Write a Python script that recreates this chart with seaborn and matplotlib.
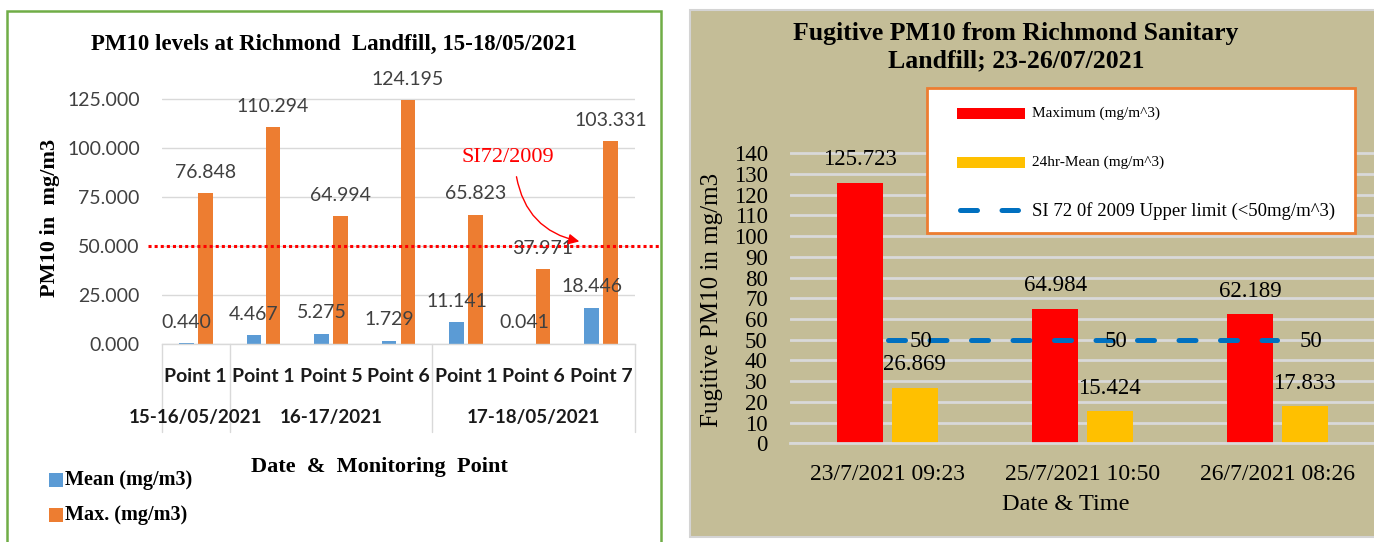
import matplotlib
matplotlib.use("Agg")
import matplotlib.pyplot as plt
import seaborn as sns
import numpy as np
import pandas as pd
from matplotlib.patches import Rectangle
from matplotlib.lines import Line2D
from matplotlib.transforms import blended_transform_factory

# ---------------- data ----------------
points = ["Point 1", "Point 1", "Point 5", "Point 6", "Point 1", "Point 6", "Point 7"]
point_dates = ["15-16/05/2021", "16-17/2021", "16-17/2021", "16-17/2021",
               "17-18/05/2021", "17-18/05/2021", "17-18/05/2021"]
mean_vals = [0.440, 4.467, 5.275, 1.729, 11.141, 0.041, 18.446]
max_vals = [76.848, 110.294, 64.994, 124.195, 65.823, 37.971, 103.331]
left_series = ["Mean (mg/m3)", "Max. (mg/m3)"]
left_yticks = [0, 25, 50, 75, 100, 125]
left_limit = 50

right_dates = ["23/7/2021 09:23", "25/7/2021 10:50", "26/7/2021 08:26"]
right_max = [125.723, 64.984, 62.189]
right_mean = [26.869, 15.424, 17.833]
right_limit = [50, 50, 50]
right_series = ["Maximum (mg/m^3)", "24hr-Mean (mg/m^3)",
                "SI 72 0f 2009 Upper limit (<50mg/m^3)"]
right_yticks = list(range(0, 141, 10))

# ---------------- style ----------------
sns.set_theme(style="white")
SERIF = "Liberation Serif"
SANS = "Lato"
plt.rcParams["font.family"] = [SANS, "DejaVu Sans"]
plt.rcParams["text.color"] = "black"

W, H = 1374, 542
fig = plt.figure(figsize=(W / 100, H / 100), dpi=100)
fig.patch.set_facecolor("white")


def fx(px):
    return px / W


def fy(py):
    return 1 - py / H


# panel backgrounds (behind the axes)
fig.patches.append(Rectangle((fx(7), fy(548)), (661 - 7) / W, (548 - 11) / H,
                             transform=fig.transFigure, fill=False,
                             ec="#70AD47", lw=1.8, zorder=-2))
fig.patches.append(Rectangle((fx(690), fy(537)), (1385 - 690) / W, (537 - 10) / H,
                             transform=fig.transFigure, fc="#C4BD97",
                             ec="#D4D4D4", lw=1.5, zorder=-2))

# ================= LEFT CHART =================
px_per_unit_l = (344 - 98.5) / 125
ylim_l = 135
ax1 = fig.add_axes([fx(162), fy(344), 473 / W, ylim_l * px_per_unit_l / H])
ax1.set_facecolor("none")

keys = [f"{i}:{p}" for i, p in enumerate(points)]
df_l = pd.DataFrame({
    "key": keys * 2,
    "series": [left_series[0]] * len(keys) + [left_series[1]] * len(keys),
    "value": mean_vals + max_vals,
})
sns.barplot(data=df_l, x="key", y="value", hue="series", order=keys,
            hue_order=left_series, palette=["#5B9BD5", "#ED7D31"],
            saturation=1, width=0.56, gap=0.23, linewidth=0,
            errorbar=None, legend=False, ax=ax1)
ax1.set_ylim(0, ylim_l)
ax1.set_xlim(-0.5, len(keys) - 0.5)
ax1.set_yticks(left_yticks)
ax1.set_yticklabels([f"{v:.3f}" for v in left_yticks], fontsize=14,
                    color="#404040", family=SANS)
ax1.set_xticks(range(len(keys)))
ax1.set_xticklabels(points, fontsize=14, fontweight="bold", color="#1a1a1a",
                    family=SANS)
ax1.tick_params(axis="y", length=0, pad=16)
ax1.tick_params(axis="x", length=0, pad=17)
ax1.set_xlabel("")
ax1.set_ylabel("")
ax1.yaxis.grid(True, color="#D9D9D9", lw=1)
ax1.set_axisbelow(True)
for s in ["top", "right", "left"]:
    ax1.spines[s].set_visible(False)
ax1.spines["bottom"].set_color("#D9D9D9")
ax1.spines["bottom"].set_linewidth(1)

for cont in ax1.containers:
    ax1.bar_label(cont, labels=[f"{v:.3f}" for v in cont.datavalues],
                  padding=9, fontsize=14, color="#404040", family=SANS)

# limit line
ax1.axhline(left_limit, xmin=(148 - 162) / 473, xmax=(661 - 162) / 473,
            color="red", lw=2.2, ls=(0, (1, 1)), clip_on=False, zorder=5)

# group labels and separators
trans1 = blended_transform_factory(ax1.transData, ax1.transAxes)
groups = []
for i, d in enumerate(point_dates):
    if not groups or groups[-1][0] != d:
        groups.append([d, i, i])
    else:
        groups[-1][2] = i
sep_bottom = -(431.7 - 344) / (ylim_l * px_per_unit_l)
for b in [-0.5] + [g[2] + 0.5 for g in groups]:
    ax1.plot([b, b], [0, sep_bottom], transform=trans1, color="#D9D9D9",
             lw=1, clip_on=False)
grp_y = -(417 - 344) / (ylim_l * px_per_unit_l)
for d, i0, i1 in groups:
    ax1.text((i0 + i1) / 2, grp_y, d, transform=trans1, ha="center",
             va="center", fontsize=13.5, fontweight="bold", color="#1a1a1a",
             family=SANS)

# SI annotation
ax1.annotate("", xy=((582 - 162) / 67.57 - 0.5, (344 - 242) / px_per_unit_l),
             xytext=((516 - 162) / 67.57 - 0.5, (344 - 174) / px_per_unit_l),
             arrowprops=dict(arrowstyle="-|>", color="red", lw=1,
                             connectionstyle="arc3,rad=0.35",
                             mutation_scale=16), annotation_clip=False)
ax1.text((508 - 162) / 67.57 - 0.5, (344 - 158) / px_per_unit_l, "SI72/2009",
         color="red", fontsize=16, family=SERIF, ha="center", va="center")

# titles / labels
fig.text(fx(334), fy(44), "PM10 levels at Richmond  Landfill, 15-18/05/2021",
         ha="center", va="center", fontsize=16.5, fontweight="bold",
         family=SERIF, color="black")
fig.text(fx(50), fy(218), "PM10 in  mg/m3", rotation=90, ha="center",
         va="center", fontsize=16, fontweight="bold", family=SERIF,
         color="black")
fig.text(fx(379), fy(467), "Date  &  Monitoring  Point", ha="center",
         va="center", fontsize=16, fontweight="bold", family=SERIF,
         color="black")

# left legend
for j, (lab, col) in enumerate(zip(left_series, ["#5B9BD5", "#ED7D31"])):
    yc = [480, 515][j]
    fig.patches.append(Rectangle((fx(49), fy(yc + 7)), 14 / W, 14 / H,
                                 transform=fig.transFigure, fc=col, ec="none"))
    fig.text(fx(65), fy(yc), lab, ha="left", va="center", fontsize=14.5,
             fontweight="bold", family=SERIF, color="black")

# ================= RIGHT CHART =================
px_per_unit_r = (443.3 - 153.3) / 140
ylim_r = 145
ax2 = fig.add_axes([fx(790), fy(443.3), 585 / W, ylim_r * px_per_unit_r / H])
ax2.set_facecolor("none")

df_r = pd.DataFrame({
    "date": right_dates * 2,
    "series": [right_series[0]] * len(right_dates) + [right_series[1]] * len(right_dates),
    "value": right_max + right_mean,
})
sns.barplot(data=df_r, x="date", y="value", hue="series", order=right_dates,
            hue_order=right_series[:2], palette=["#FF0000", "#FFC000"],
            saturation=1, width=0.56, gap=0.16, linewidth=0,
            errorbar=None, legend=False, ax=ax2)
xs = np.arange(len(right_dates))
ax2.plot(xs, right_limit, color="#0070C0", lw=3.6, ls=(0, (3.4, 4.9)),
         dash_capstyle="round", zorder=6)
for x, v in zip(xs, right_limit):
    ax2.annotate(f"{v}", (x, v), xytext=(16, -1.5), textcoords="offset points",
                 ha="left", va="center", fontsize=16.5, family=SERIF,
                 color="black", zorder=7)

ax2.set_ylim(0, ylim_r)
ax2.set_xlim(-0.5, len(right_dates) - 0.5)
ax2.set_yticks(right_yticks)
ax2.set_yticklabels([str(v) for v in right_yticks], fontsize=16.5,
                    family=SERIF, color="black")
ax2.set_xticks(xs)
ax2.set_xticklabels(right_dates, fontsize=17, family=SERIF, color="black")
ax2.set_xticks(np.arange(len(right_dates) + 1) - 0.5, minor=True)
ax2.tick_params(axis="y", length=0, pad=16)
ax2.tick_params(axis="x", which="major", length=0, pad=15)
ax2.tick_params(axis="x", which="minor", length=5, width=2, color="#D9D9D9")
ax2.set_xlabel("")
ax2.set_ylabel("")
ax2.yaxis.grid(True, color="#D9D9D9", lw=2)
ax2.set_axisbelow(True)
for s in ["top", "right", "left"]:
    ax2.spines[s].set_visible(False)
ax2.spines["bottom"].set_color("#D9D9D9")
ax2.spines["bottom"].set_linewidth(2)

for cont in ax2.containers:
    ax2.bar_label(cont, labels=[f"{v:.3f}" for v in cont.datavalues],
                  padding=9, fontsize=16.5, color="black", family=SERIF)

fig.text(fx(1016), fy(47), "Fugitive PM10 from Richmond Sanitary\nLandfill; 23-26/07/2021",
         ha="center", va="center", fontsize=18.5, fontweight="bold",
         family=SERIF, linespacing=1.25, color="black")
fig.text(fx(712), fy(300), "Fugitive PM10 in mg/m3", rotation=90, ha="center",
         va="center", fontsize=18, family=SERIF, color="black")
fig.text(fx(1066), fy(505), "Date & Time", ha="center", va="center",
         fontsize=17.5, family=SERIF, color="black")

# right legend box
fig.patches.append(Rectangle((fx(927), fy(233)), (1355 - 927) / W, (233 - 88) / H,
                             transform=fig.transFigure, fc="white", ec="#ED7D31",
                             lw=2, zorder=8))
for j, col in enumerate(["#FF0000", "#FFC000"]):
    yc = [113, 162][j]
    fig.patches.append(Rectangle((fx(957), fy(yc + 5.5)), 68 / W, 11 / H,
                                 transform=fig.transFigure, fc=col, ec="none",
                                 zorder=9))
    fig.text(fx(1032), fy(yc), right_series[j], ha="left", va="center",
             fontsize=11, family=SERIF, zorder=9, color="black")
fig.lines.append(Line2D([fx(959.5), fx(1017.5)], [fy(210), fy(210)],
                        transform=fig.transFigure, color="#0070C0", lw=3.6,
                        ls=(0, (3.4, 4.9)), dash_capstyle="round", zorder=9))
fig.text(fx(1032), fy(211), right_series[2], ha="left", va="center",
         fontsize=13.5, family=SERIF, zorder=9, color="black")

fig.savefig("out.png", dpi=100)
